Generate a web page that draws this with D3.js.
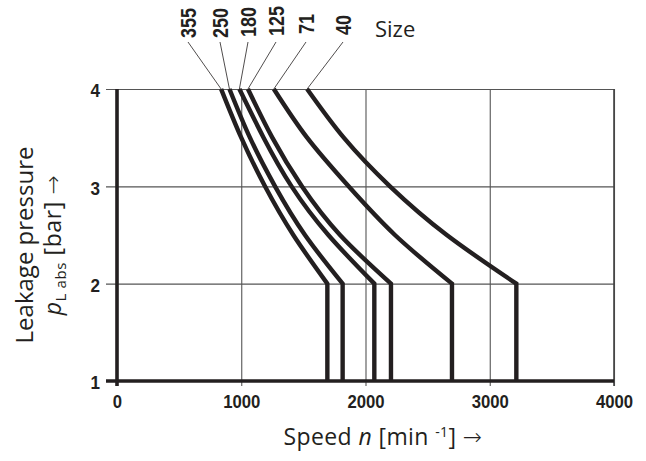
<!DOCTYPE html>
<html>
<head>
<meta charset="utf-8">
<script src="https://cdn.jsdelivr.net/npm/d3@7"></script>
<style>
  body { margin: 0; background: #fff; }
  svg { display: block; }
  .tick-lbl { font-family: "Liberation Sans", Arial, sans-serif; font-weight: bold; fill: #231f20; }
  .title { font-family: "Open Sans", "Noto Sans", sans-serif; fill: #231f20; }
  .arrow { font-family: "DejaVu Sans", sans-serif; font-weight: 200; }
</style>
</head>
<body>
<svg id="chart" width="646" height="461"></svg>
<script>
// sizes and their curves (speed in min^-1 at each pressure level)
const sizes = ["355", "250", "180", "125", "71", "40"];
const pressures = [4, 3.5, 3, 2.5, 2];
const speed355 = [838, 1000, 1191, 1419, 1693];
const speed250 = [905, 1070, 1272, 1513, 1816];
const speed180 = [985, 1180, 1405, 1701, 2071];
const speed125 = [1054, 1250, 1488, 1795, 2205];
const speed71 = [1262, 1530, 1864, 2237, 2696];
const speed40 = [1530, 1825, 2197, 2654, 3214];
const speeds = [speed355, speed250, speed180, speed125, speed71, speed40];

const xTicks = [0, 1000, 2000, 3000, 4000];
const yTicks = [1, 2, 3, 4];

// layout of the size labels at the top (pixels)
const labelX = [188, 220, 248, 276, 306, 343];
const labelBottom = [38, 38, 37, 36, 34, 35];

const ink = "#231f20";
const svg = d3.select("#chart");

const x = d3.scaleLinear().domain([0, 4000]).range([117, 614]);
const y = d3.scaleLinear().domain([1, 4]).range([381, 89]);

// squeeze bold digits to a condensed look
function condense(sel, perChar) {
  sel.attr("textLength", function () { return this.textContent.length * perChar; })
    .attr("lengthAdjust", "spacingAndGlyphs");
}

// vertical grid + x tick labels
const xAxis = svg.append("g")
  .attr("transform", "translate(0," + (y(1) + 5) + ")")
  .call(d3.axisBottom(x).tickValues(xTicks).tickFormat(d3.format("d"))
    .tickSize(-(y(1) + 5 - y(4))).tickPadding(9));
xAxis.select(".domain").remove();
xAxis.selectAll("line").attr("stroke", "#555").attr("stroke-width", 1.1);
xAxis.selectAll("text").attr("class", "tick-lbl").attr("font-size", 19).attr("fill", ink)
  .call(condense, 9.3);

// horizontal grid + y tick labels
const yAxis = svg.append("g")
  .attr("transform", "translate(106,0)")
  .call(d3.axisLeft(y).tickValues(yTicks).tickFormat(d3.format("d"))
    .tickSize(-(x(4000) - 106)).tickPadding(6));
yAxis.select(".domain").remove();
yAxis.selectAll("line").attr("stroke", "#555").attr("stroke-width", 1.1);
yAxis.selectAll("text").attr("class", "tick-lbl").attr("font-size", 19).attr("fill", ink)
  .attr("dy", "0.42em").call(condense, 9.5);

// right border a bit heavier
svg.append("line")
  .attr("x1", x(4000)).attr("x2", x(4000))
  .attr("y1", y(4)).attr("y2", y(1) + 5)
  .attr("stroke", "#444").attr("stroke-width", 1.6);

// curves
const line = d3.line()
  .x(d => x(d[0]))
  .y(d => y(d[1]))
  .curve(d3.curveNatural);

speeds.forEach(function (s) {
  const pts = s.map((v, i) => [v, pressures[i]]);
  const last = s[s.length - 1];
  svg.append("path")
    .attr("d", line(pts) + "L" + x(last) + "," + y(1))
    .attr("fill", "none")
    .attr("stroke", ink)
    .attr("stroke-width", 4.4)
    .attr("stroke-linejoin", "miter");
});

// thick axes
svg.append("line")
  .attr("x1", x(0)).attr("x2", x(0))
  .attr("y1", y(4)).attr("y2", y(1) + 5)
  .attr("stroke", ink).attr("stroke-width", 3.6);
svg.append("line")
  .attr("x1", 106).attr("x2", x(4000))
  .attr("y1", y(1)).attr("y2", y(1))
  .attr("stroke", ink).attr("stroke-width", 3.6);

// size labels with leader lines
sizes.forEach(function (name, i) {
  svg.append("line")
    .attr("x1", labelX[i]).attr("y1", 42)
    .attr("x2", x(speeds[i][0])).attr("y2", y(4))
    .attr("stroke", ink).attr("stroke-width", 0.8);
  svg.append("text")
    .attr("class", "tick-lbl")
    .attr("font-size", 22)
    .attr("transform", "translate(" + (labelX[i] + 8) + "," + labelBottom[i] + ") rotate(-90)")
    .text(name)
    .call(condense, 10);
});
svg.append("text")
  .attr("class", "title")
  .attr("x", 375).attr("y", 37)
  .attr("font-size", 22)
  .text("Size");

// x title
const xt = svg.append("text")
  .attr("class", "title")
  .attr("x", 383).attr("y", 445)
  .attr("text-anchor", "middle")
  .attr("font-size", 23)
  .attr("letter-spacing", 0.4);
xt.append("tspan").text("Speed ");
xt.append("tspan").attr("font-style", "italic").text("n");
xt.append("tspan").text(" [min ");
xt.append("tspan").attr("font-size", 14).attr("dy", -8).text("-1");
xt.append("tspan").attr("dy", 8).text("] ");
xt.append("tspan").attr("class", "arrow").text("\u2192");

// y title
svg.append("text")
  .attr("class", "title")
  .attr("transform", "translate(33,245) rotate(-90)")
  .attr("text-anchor", "middle")
  .attr("font-size", 24)
  .text("Leakage pressure");
const yt = svg.append("text")
  .attr("class", "title")
  .attr("transform", "translate(61,245) rotate(-90)")
  .attr("text-anchor", "middle")
  .attr("font-size", 23)
  .attr("letter-spacing", 0.6);
yt.append("tspan").attr("font-style", "italic").text("p");
yt.append("tspan").attr("font-size", 15).attr("dy", 5).text("L abs");
yt.append("tspan").attr("dy", -5).text(" [bar] ");
yt.append("tspan").attr("class", "arrow").text("\u2192");
</script>
</body>
</html>
